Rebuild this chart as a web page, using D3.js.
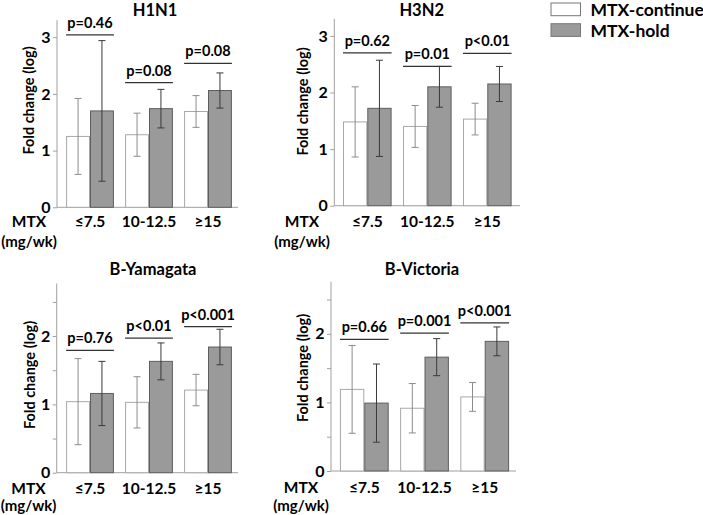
<!DOCTYPE html>
<html><head><meta charset="utf-8">
<script src="https://cdn.jsdelivr.net/npm/d3@7"></script>
<style>
body{margin:0;background:#fff;}
svg{display:block;font-family:Lato,"Open Sans",sans-serif;font-weight:bold;}
</style></head>
<body>
<svg id="chart" width="703" height="515"></svg>
<script>
// ---------- data ----------
const categories = ["≤7.5", "10-12.5", "≥15"];
const seriesNames = ["MTX-continue", "MTX-hold"];
const panelTitles = ["H1N1", "H3N2", "B-Yamagata", "B-Victoria"];

const h1n1Continue = [1.25, 1.28, 1.69];
const h1n1ContinueErr = [0.67, 0.38, 0.28];
const h1n1Hold = [1.70, 1.74, 2.06];
const h1n1HoldErr = [1.24, 0.34, 0.31];
const h1n1P = ["p=0.46", "p=0.08", "p=0.08"];
const h1n1PLevel = [3.04, 2.20, 2.54];

const h3n2Continue = [1.48, 1.40, 1.53];
const h3n2ContinueErr = [0.62, 0.37, 0.28];
const h3n2Hold = [1.72, 2.10, 2.15];
const h3n2HoldErr = [0.85, 0.36, 0.31];
const h3n2P = ["p=0.62", "p=0.01", "p<0.01"];
const h3n2PLevel = [2.70, 2.46, 2.69];

const yamContinue = [1.04, 1.03, 1.21];
const yamContinueErr = [0.63, 0.375, 0.23];
const yamHold = [1.16, 1.63, 1.84];
const yamHoldErr = [0.47, 0.27, 0.26];
const yamP = ["p=0.76", "p<0.01", "p<0.001"];
const yamPLevel = [1.79, 1.97, 2.14];

const vicContinue = [1.19, 0.915, 1.08];
const vicContinueErr = [0.64, 0.36, 0.21];
const vicHold = [0.99, 1.66, 1.89];
const vicHoldErr = [0.57, 0.27, 0.21];
const vicP = ["p=0.66", "p=0.001", "p<0.001"];
const vicPLevel = [1.92, 2.01, 2.16];

const yTicksTop = [0, 1, 2, 3];
const yTicksBottom = [0, 1, 2];
const yMinorBottom = [0.5, 1.5, 2.5];

// ---------- layout ----------
const panels = [
  {title: panelTitles[0], cont: h1n1Continue, contErr: h1n1ContinueErr, hold: h1n1Hold, holdErr: h1n1HoldErr, p: h1n1P, pl: h1n1PLevel,
   ax: 57, xr: [60.5, 237.5], axEnd: 238, y0: 207.3, yTop: 20.2, ymax: 3.3, ticks: yTicksTop, minor: [],
   tx: 155, ty: 10, lx: 29, ly: 100.5, mtxX: 29, catY: 222},
  {title: panelTitles[1], cont: h3n2Continue, contErr: h3n2ContinueErr, hold: h3n2Hold, holdErr: h3n2HoldErr, p: h3n2P, pl: h3n2PLevel,
   ax: 334.3, xr: [337.3, 517.3], axEnd: 520, y0: 205.7, yTop: 18.9, ymax: 3.3, ticks: yTicksTop, minor: [],
   tx: 421.7, ty: 10, lx: 303, ly: 101.5, mtxX: 302, catY: 222},
  {title: panelTitles[2], cont: yamContinue, contErr: yamContinueErr, hold: yamHold, holdErr: yamHoldErr, p: yamP, pl: yamPLevel,
   ax: 56.7, xr: [60.5, 237.5], axEnd: 238, y0: 472.7, yTop: 283.5, ymax: 2.77, ticks: yTicksBottom, minor: yMinorBottom,
   tx: 153, ty: 269, lx: 29.5, ly: 375, mtxX: 28.5, catY: 489},
  {title: panelTitles[3], cont: vicContinue, contErr: vicContinueErr, hold: vicHold, holdErr: vicHoldErr, p: vicP, pl: vicPLevel,
   ax: 331, xr: [334.2, 514.8], axEnd: 516, y0: 471, yTop: 281.7, ymax: 2.76, ticks: yTicksBottom, minor: yMinorBottom,
   tx: 422, ty: 269, lx: 303, ly: 368, mtxX: 301, catY: 487.5}
];

const svg = d3.select("#chart");
const fills = ["#ffffff", "#9a9a9a"];
const strokes = ["#a8a8a8", "#5e5e5e"];
const errColors = ["#8c8c8c", "#3a3a3a"];

panels.forEach(P => {
  const g = svg.append("g");
  const x0 = d3.scaleBand().domain(categories).range(P.xr).paddingInner(0.19).paddingOuter(0.095);
  const x1 = d3.scaleBand().domain(seriesNames).range([0, x0.bandwidth()]);
  const y = d3.scaleLinear().domain([0, P.ymax]).range([P.y0, P.yTop]);

  // axes
  g.append("line").attr("x1", P.ax).attr("x2", P.ax).attr("y1", y(0)).attr("y2", y(P.ymax))
    .attr("stroke", "#a0a0a0").attr("stroke-width", 1);
  g.append("line").attr("x1", P.ax).attr("x2", P.axEnd).attr("y1", y(0)).attr("y2", y(0))
    .attr("stroke", "#a0a0a0").attr("stroke-width", 1);
  const yAxis = d3.axisLeft(y).tickValues(P.ticks).tickSize(4).tickFormat(d3.format("d"));
  const ag = g.append("g").attr("transform", `translate(${P.ax},0)`).call(yAxis);
  ag.select(".domain").remove();
  ag.selectAll(".tick line").attr("stroke", "#a0a0a0");
  ag.selectAll(".tick text").attr("font-size", 16).attr("font-weight", "bold").attr("fill", "#000")
    .attr("font-family", "Lato, sans-serif").attr("x", -6.5);
  if (P.minor.length) {
    const mg = g.append("g").attr("transform", `translate(${P.ax},0)`)
      .call(d3.axisLeft(y).tickValues(P.minor).tickSize(4).tickFormat(""));
    mg.select(".domain").remove();
    mg.selectAll(".tick line").attr("stroke", "#a0a0a0");
  }

  // bars
  const series = [
    {name: seriesNames[0], vals: P.cont, errs: P.contErr, i: 0},
    {name: seriesNames[1], vals: P.hold, errs: P.holdErr, i: 1}
  ];
  series.forEach(s => {
    const gs = g.append("g");
    gs.selectAll("rect").data(categories).join("rect")
      .attr("x", (c) => x0(c) + x1(s.name) + 0.5)
      .attr("y", (c, k) => y(s.vals[k]))
      .attr("width", x1.bandwidth() - 1)
      .attr("height", (c, k) => y(0) - y(s.vals[k]))
      .attr("fill", fills[s.i]).attr("stroke", strokes[s.i]).attr("stroke-width", 1);
  });
  // error bars
  series.forEach(s => {
    const ge = g.append("g").attr("stroke", errColors[s.i]).attr("stroke-width", 1);
    categories.forEach((c, k) => {
      const cx = x0(c) + x1(s.name) + x1.bandwidth() / 2;
      const hi = y(s.vals[k] + s.errs[k]), lo = y(s.vals[k] - s.errs[k]);
      ge.append("line").attr("x1", cx).attr("x2", cx).attr("y1", hi).attr("y2", lo);
      ge.append("line").attr("x1", cx - 3.5).attr("x2", cx + 3.5).attr("y1", hi).attr("y2", hi);
      ge.append("line").attr("x1", cx - 3.5).attr("x2", cx + 3.5).attr("y1", lo).attr("y2", lo);
    });
  });

  // p-value brackets
  categories.forEach((c, k) => {
    const ly = y(P.pl[k]);
    g.append("line").attr("x1", x0(c)).attr("x2", x0(c) + x0.bandwidth())
      .attr("y1", ly).attr("y2", ly).attr("stroke", "#333").attr("stroke-width", 1.2);
    g.append("text").attr("x", x0(c) + x0.bandwidth() / 2).attr("y", ly - 7)
      .attr("text-anchor", "middle").attr("font-size", 14.5).text(P.p[k]);
  });

  // category labels
  g.selectAll("text.cat").data(categories).join("text").attr("class", "cat")
    .attr("x", c => x0(c) + x0.bandwidth() / 2).attr("y", P.catY).attr("dy", "0.35em")
    .attr("text-anchor", "middle").attr("font-size", 15.5).text(c => c);

  // MTX labels
  g.append("text").attr("x", P.mtxX).attr("y", P.catY).attr("dy", "0.35em")
    .attr("text-anchor", "middle").attr("font-size", 15.5).text("MTX");
  g.append("text").attr("x", P.mtxX).attr("y", Math.min(P.catY + 20, 505.5)).attr("dy", "0.35em")
    .attr("text-anchor", "middle").attr("font-size", 15).text("(mg/wk)");

  // title
  g.append("text").attr("x", P.tx).attr("y", P.ty).attr("dy", "0.35em")
    .attr("text-anchor", "middle").attr("font-size", 16.5).text(P.title);

  // y label
  g.append("text").attr("transform", `translate(${P.lx},${P.ly}) rotate(-90)`)
    .attr("dy", "0.35em").attr("text-anchor", "middle").attr("font-size", 14.5).text("Fold change (log)");
});

// legend
const legend = svg.append("g");
seriesNames.forEach((n, i) => {
  legend.append("rect").attr("x", 551).attr("y", 3 + i * 20.7).attr("width", 29.5).attr("height", 12.7)
    .attr("fill", fills[i]).attr("stroke", "#777").attr("stroke-width", 1);
  legend.append("text").attr("x", 590.5).attr("y", 10 + i * 20.7).attr("dy", "0.35em")
    .attr("font-size", 17.5).text(n);
});
</script>
</body></html>
